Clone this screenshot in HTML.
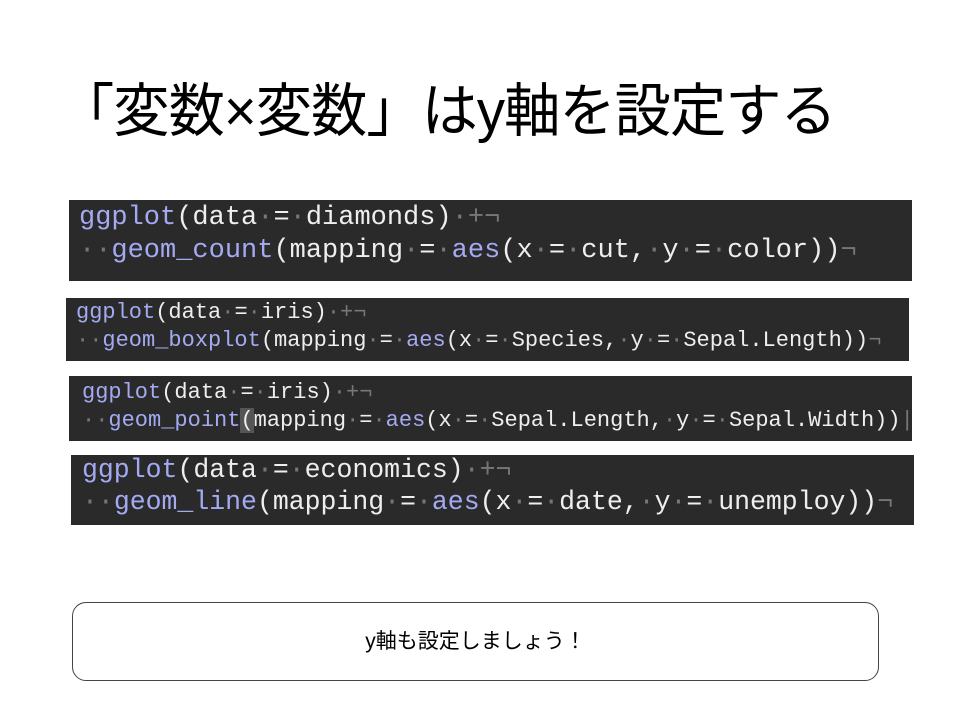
<!DOCTYPE html>
<html><head><meta charset="utf-8"><style>
body{margin:0;width:960px;height:720px;background:#fff;position:relative;overflow:hidden;font-family:"Liberation Sans","Noto Sans CJK JP",sans-serif}
.t{position:absolute;left:58px;top:64px;font-size:58px;white-space:nowrap;color:#000;letter-spacing:-1px;transform:scaleX(0.97);transform-origin:left top}
.c{position:absolute;background:#2a2a2a;font-family:"Liberation Mono","DejaVu Sans Mono",monospace;color:#eee;white-space:pre;overflow:hidden}
.b{color:#a4aaf2}
.d{color:#777}
.l{position:absolute;white-space:pre}
.box{position:absolute;left:72px;top:602px;width:805px;height:77px;border:1px solid #444;border-radius:14px;text-align:center;line-height:77px;font-size:21px}
</style></head><body>
<div class="t">「変数×変数」はy軸を設定する</div>

<div class="c" style="left:69px;top:200px;width:843px;height:81px;font-size:27px">
<div class="l" style="left:10px;top:3px"><span class="b">ggplot</span>(data<span class="d">·</span>=<span class="d">·</span>diamonds)<span class="d">·+¬</span></div>
<div class="l" style="left:10px;top:36px"><span class="d">··</span><span class="b">geom_count</span>(mapping<span class="d">·</span>=<span class="d">·</span><span class="b">aes</span>(x<span class="d">·</span>=<span class="d">·</span>cut,<span class="d">·</span>y<span class="d">·</span>=<span class="d">·</span>color))<span class="d">¬</span></div>
</div>

<div class="c" style="left:66px;top:298px;width:843px;height:63px;font-size:22px">
<div class="l" style="left:10px;top:2px"><span class="b">ggplot</span>(data<span class="d">·</span>=<span class="d">·</span>iris)<span class="d">·+¬</span></div>
<div class="l" style="left:10px;top:30px"><span class="d">··</span><span class="b">geom_boxplot</span>(mapping<span class="d">·</span>=<span class="d">·</span><span class="b">aes</span>(x<span class="d">·</span>=<span class="d">·</span>Species,<span class="d">·</span>y<span class="d">·</span>=<span class="d">·</span>Sepal.Length))<span class="d">¬</span></div>
</div>

<div class="c" style="left:69px;top:376px;width:843px;height:65px;font-size:22px">
<div class="l" style="left:13px;top:4px"><span class="b">ggplot</span>(data<span class="d">·</span>=<span class="d">·</span>iris)<span class="d">·+¬</span></div>
<div class="l" style="left:13px;top:32px"><span class="d">··</span><span class="b">geom_point</span><span style="background:#555">(</span>mapping<span class="d">·</span>=<span class="d">·</span><span class="b">aes</span>(x<span class="d">·</span>=<span class="d">·</span>Sepal.Length,<span class="d">·</span>y<span class="d">·</span>=<span class="d">·</span>Sepal.Width))<span class="d">|</span></div>
</div>

<div class="c" style="left:71px;top:455px;width:843px;height:70px;font-size:26.5px">
<div class="l" style="left:11px;top:0px"><span class="b">ggplot</span>(data<span class="d">·</span>=<span class="d">·</span>economics)<span class="d">·+¬</span></div>
<div class="l" style="left:11px;top:32px"><span class="d">··</span><span class="b">geom_line</span>(mapping<span class="d">·</span>=<span class="d">·</span><span class="b">aes</span>(x<span class="d">·</span>=<span class="d">·</span>date,<span class="d">·</span>y<span class="d">·</span>=<span class="d">·</span>unemploy))<span class="d">¬</span></div>
</div>

<div class="box">y軸も設定しましょう！</div>
</body></html>
